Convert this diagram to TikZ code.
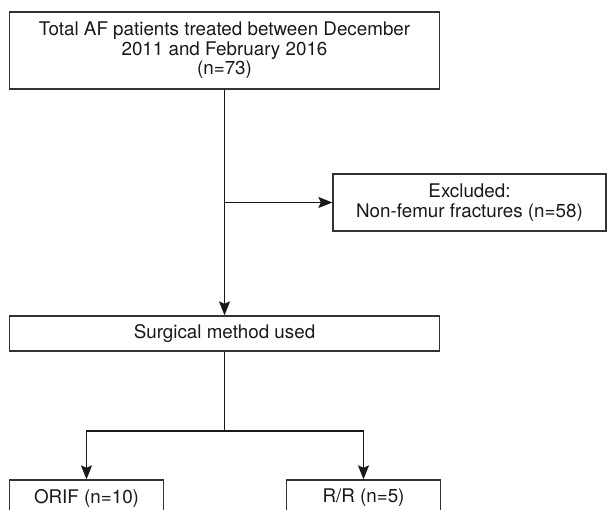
\documentclass[tikz,border=0pt]{standalone}
\usepackage{fontspec}
\setmainfont{TeX Gyre Heros}
\usetikzlibrary{arrows.meta}
\begin{document}
\begin{tikzpicture}[x=1pt,y=-1pt,
  boxstyle/.style={draw=black!80, line width=1.3pt, rectangle, inner sep=0pt, align=center,
    text=black!90, font=\fontsize{18.8}{19.5}\selectfont},
  link/.style={draw=black!90, line width=1.3pt},
  arr/.style={link, -{Stealth[length=14pt,width=11pt,inset=2.5pt]}}]
\useasboundingbox (0,0) rectangle (608,510);
\clip (0,0) rectangle (608,510);
\node[boxstyle, minimum width=429.5pt, minimum height=77pt] (total) at (224.5,50.5)
  {Total AF patients treated between December\\2011 and February 2016\\(n=73)};
\node[boxstyle, minimum width=273pt, minimum height=57pt] (excl) at (469.5,202.5)
  {Excluded:\\Non-femur fractures (n=58)};
\node[boxstyle, minimum width=430pt, minimum height=35pt] (surg) at (224.5,333.5)
  {Surgical method used};
\node[boxstyle, minimum width=154pt, minimum height=36pt] (orif) at (86.5,498)
  {ORIF (n=10)};
\node[boxstyle, minimum width=154pt, minimum height=36pt] (rr) at (363.5,498)
  {R/R (n=5)};
\coordinate (split) at (total.south |- excl.west);
\coordinate (fork) at (224.5,431);
\draw[arr] (total.south) -- (surg.north);
\draw[arr] (split) -- (excl.west);
\draw[link] (surg.south) -- (fork);
\draw[arr] (fork) -| (orif.north);
\draw[arr] (fork) -| (rr.north);
\end{tikzpicture}
\end{document}
